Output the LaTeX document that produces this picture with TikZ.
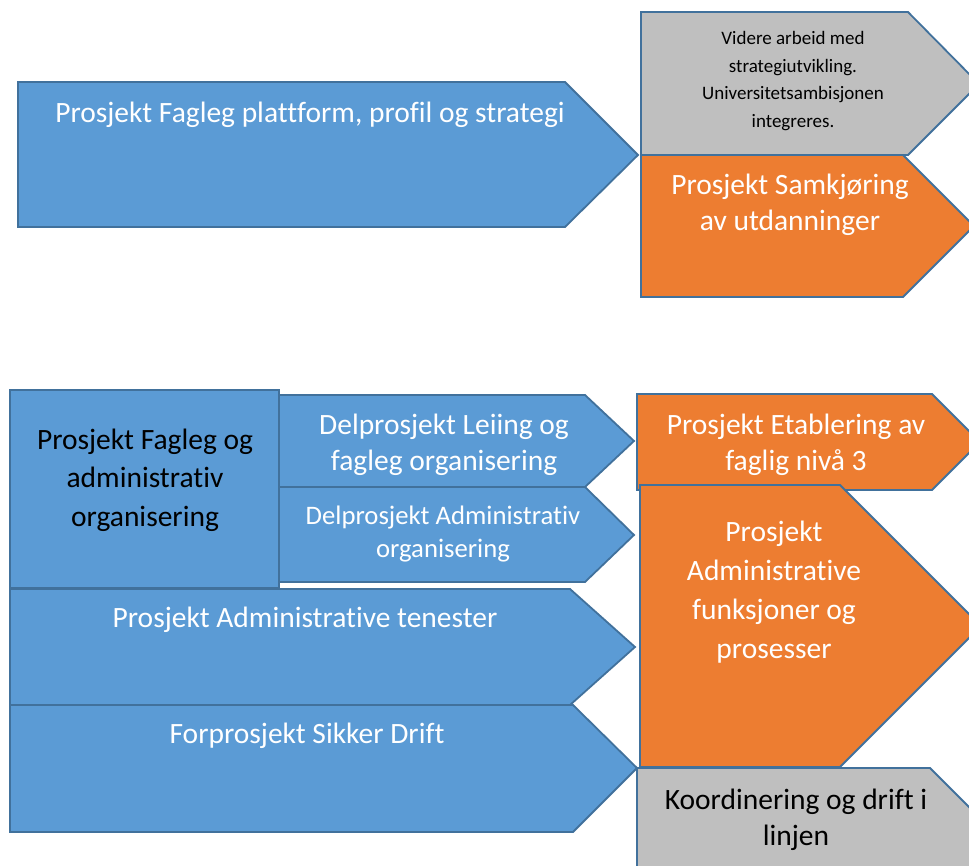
\documentclass[tikz,border=0pt]{standalone}
\usepackage{fontspec}
\setmainfont[Ligatures=NoCommon]{Carlito}
\definecolor{bluef}{HTML}{5B9BD5}
\definecolor{orangef}{HTML}{ED7D31}
\definecolor{grayf}{HTML}{BFBFBF}
\definecolor{edgec}{HTML}{41719C}
\begin{document}
\begin{tikzpicture}[x=1pt,y=-1pt,
 shp/.style={draw=edgec, line width=1.8pt, line join=miter},
 bshp/.style={shp, fill=bluef},
 oshp/.style={shp, fill=orangef},
 gshp/.style={shp, fill=grayf},
 lbl/.style={align=center, inner sep=0pt, font=\fontsize{29.5}{36}\selectfont},
 wl/.style={lbl,text=white},
 kl/.style={lbl,text=black}]
\useasboundingbox (0,0) rectangle (969,866);
\clip (0,0) rectangle (969,866);
% top group
\draw[bshp] (18,82) -- (565,82) -- (638,155) -- (565,227) -- (18,227) -- cycle;
\node[wl] (t1) at (310,115) {Prosjekt Fagleg plattform, profil og strategi};
\draw[gshp] (641,12) -- (908,12) -- (979,84) -- (908,155) -- (641,155) -- cycle;
\node[kl, font=\fontsize{19}{27.5}\selectfont] (g1) at (793,81) {Videre arbeid med\\strategiutvikling.\\Universitetsambisjonen\\integreres.};
\draw[oshp] (641,155) -- (903,155) -- (974,226) -- (903,297) -- (641,297) -- cycle;
\node[wl] (o1) at (790,205) {Prosjekt Samkjøring\\av utdanninger};
% bottom group
\draw[bshp] (279,395) -- (585,395) -- (634,441) -- (585,487) -- (279,487) -- cycle;
\node[wl] (d1) at (444,445) {Delprosjekt Leiing og\\fagleg organisering};
\draw[bshp] (279,487) -- (585,487) -- (634,535) -- (585,582) -- (279,582) -- cycle;
\node[wl, font=\fontsize{26.7}{33}\selectfont] (d2) at (443,534) {Delprosjekt Administrativ\\organisering};
\draw[bshp] (10,390) rectangle (279,588);
\node[kl, font=\fontsize{29.5}{38.5}\selectfont] (sq) at (145,480) {Prosjekt Fagleg og\\administrativ\\organisering};
\draw[bshp] (10,589) -- (570,589) -- (635,647) -- (570,705) -- (10,705) -- cycle;
\node[wl] (p1) at (305,620) {Prosjekt Administrative tenester};
\draw[bshp] (10,705) -- (573,705) -- (637,768) -- (573,832) -- (10,832) -- cycle;
\node[wl] (p2) at (307,736) {Forprosjekt Sikker Drift};
\draw[oshp] (637,394) -- (932,394) -- (980,442) -- (932,490) -- (637,490) -- cycle;
\node[wl] (e1) at (796,445) {Prosjekt Etablering av\\faglig nivå 3};
\draw[oshp] (640,485) -- (840,485) -- (981,626) -- (840,767) -- (640,767) -- cycle;
\node[wl, font=\fontsize{29.5}{39}\selectfont] (e2) at (774,592) {Prosjekt\\Administrative\\funksjoner og\\prosesser};
\draw[gshp] (637,768) -- (930,768) -- (1000,838) -- (930,908) -- (637,908) -- cycle;
\node[kl, font=\fontsize{29.5}{36.5}\selectfont] (k1) at (796,820) {Koordinering og drift i\\linjen};
\end{tikzpicture}
\end{document}
